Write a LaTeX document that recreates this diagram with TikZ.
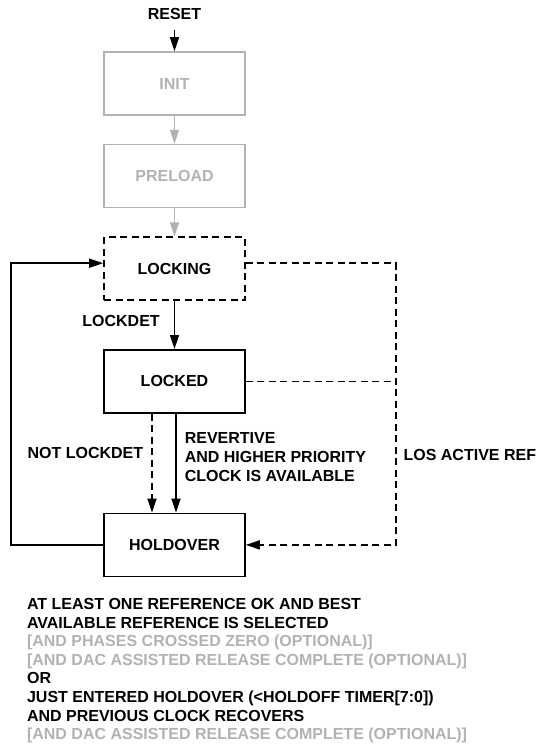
\documentclass[tikz,border=0pt]{standalone}
\usepackage{fontspec}
\setmainfont{Liberation Sans}
\usetikzlibrary{positioning, arrows.meta, calc}
\definecolor{faded}{RGB}{178,178,178}

\begin{document}
\begin{tikzpicture}[x=1pt, y=-1pt,
  state/.style={draw, line width=1.6pt, minimum width=141pt, minimum height=63pt,
                font=\fontsize{16}{19}\selectfont\bfseries},
  oldstate/.style={state, draw=faded, text=faded},
  trystate/.style={state, dash pattern=on 7pt off 4.5pt},
  arr/.style={-{Triangle[length=14pt, width=9pt]}, line width=1.6pt},
  oldarr/.style={arr, color=faded},
  dasharr/.style={arr, dash pattern=on 7pt off 4.5pt},
  dashline/.style={line width=1.6pt, dash pattern=on 7pt off 4.5pt},
  lbl/.style={font=\fontsize{16}{19}\selectfont\bfseries, inner sep=0pt, align=left},
]
\useasboundingbox (0,0) rectangle (538,745);

% States
\node[oldstate] (init) at (174.5,83.5) {INIT};
\node[oldstate, below=28pt of init] (preload) {PRELOAD};
\node[trystate, below=28pt of preload] (locking) {LOCKING};
\node[state, below=48pt of locking] (locked) {LOCKED};
\node[state, below=99pt of locked] (holdover) {HOLDOVER};

% Entry
\node[lbl, above=31pt of init] (reset) {RESET};
\draw[arr, shorten <=10pt] (reset.south) -- (init.north);

% === Arrows (main flow) ===
\draw[oldarr] (init) -- (preload);
\draw[oldarr] (preload) -- (locking);
\draw[arr] (locking) -- node[lbl, left=14pt, pos=0.41] (lockdet) {LOCKDET} (locked);

\draw[dasharr] ([xshift=-22.5pt]locked.south) --
  node[lbl, left=8pt, pos=0.4] (notlock) {NOT LOCKDET} ([xshift=-22.5pt]holdover.north);
\draw[arr] ([xshift=1.5pt]locked.south) --
  node[lbl, right=8pt, pos=0.44] (revert)
  {REVERTIVE\\AND HIGHER PRIORITY\\CLOCK IS AVAILABLE} ([xshift=1.5pt]holdover.north);

% Holdover back to locking, round the left
\draw[arr] (holdover.west) -- ++(-92.5pt,0) |- ([yshift=5.5pt]locking.west);

% Loss of active reference, round the right
\draw[dasharr] ([yshift=5.5pt]locking.east) -- ++(150pt,0) coordinate (losturn)
  |- node[lbl, right=7pt, pos=0.34] (losref) {LOS ACTIVE REF} (holdover.east);
\draw[dashline] (locked.east) -- (locked.east -| losturn);

% Exit conditions
\node[lbl, anchor=north west, font=\fontsize{16}{18.6}\selectfont\bfseries] (cond)
  at ([yshift=-21pt]holdover.south -| notlock.west)
  {AT LEAST ONE REFERENCE OK AND BEST\\
   AVAILABLE REFERENCE IS SELECTED\\
   \textcolor{faded}{[AND PHASES CROSSED ZERO (OPTIONAL)]}\\
   \textcolor{faded}{[AND DAC ASSISTED RELEASE COMPLETE (OPTIONAL)]}\\
   OR\\
   JUST ENTERED HOLDOVER (<HOLDOFF TIMER[7:0])\\
   AND PREVIOUS CLOCK RECOVERS\\
   \textcolor{faded}{[AND DAC ASSISTED RELEASE COMPLETE (OPTIONAL)]}};

\end{tikzpicture}
\end{document}
